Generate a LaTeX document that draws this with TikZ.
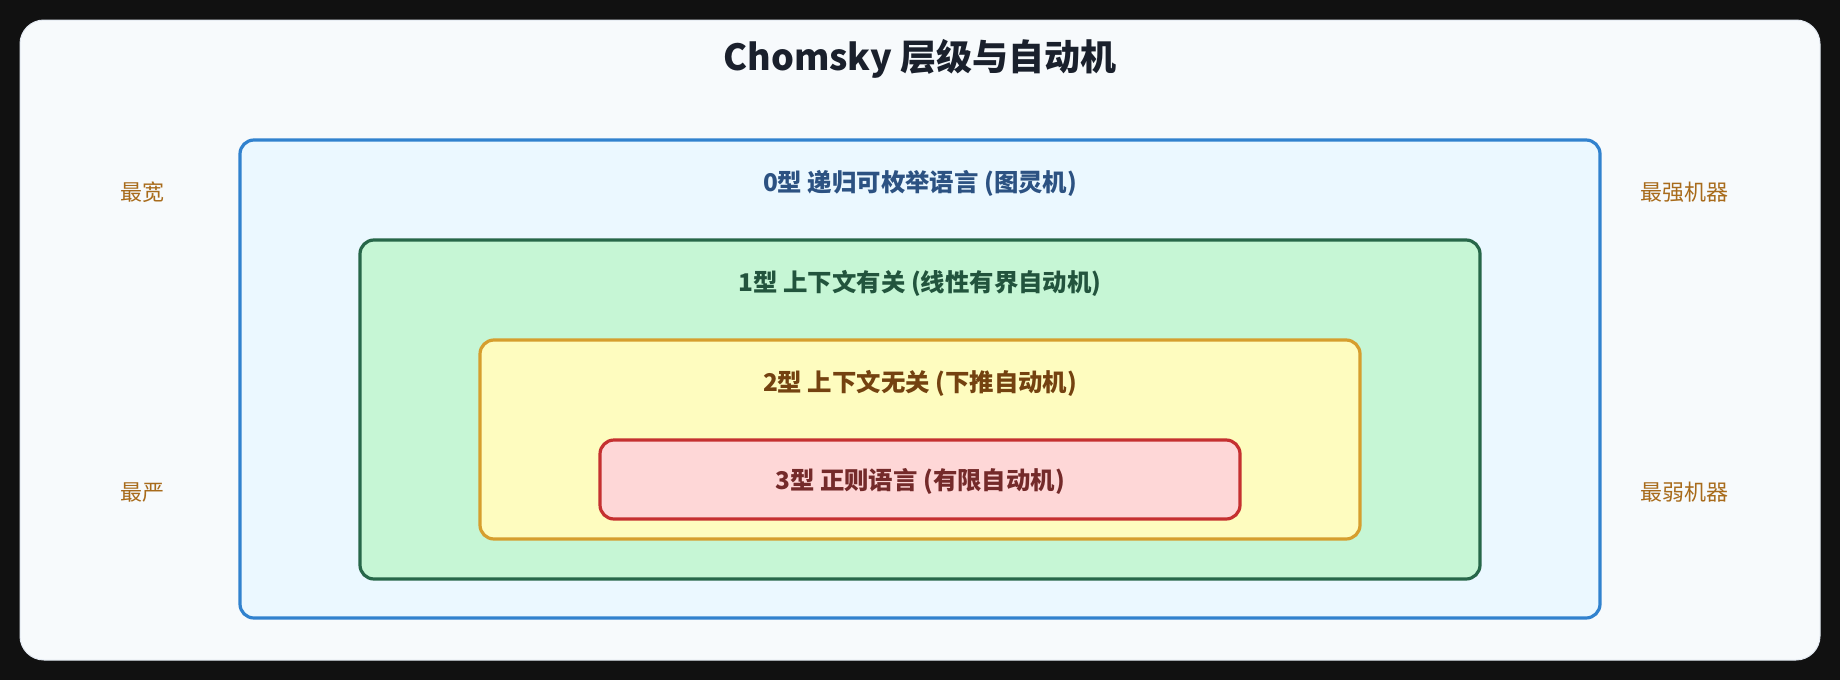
\documentclass[tikz,border=0pt]{standalone}
\usepackage{fontspec}
\setmainfont{Noto Sans CJK SC}
\usetikzlibrary{positioning}
\definecolor{pagebg}{HTML}{111111}
\definecolor{cardbg}{HTML}{F7FAFC}
\definecolor{cardline}{HTML}{E2E8F0}
\definecolor{titlec}{HTML}{1A202C}
\definecolor{sidec}{HTML}{A86B1B}
\definecolor{bline}{HTML}{3182CE}\definecolor{bfill}{HTML}{EBF8FF}\definecolor{btext}{HTML}{2C5282}
\definecolor{gline}{HTML}{276749}\definecolor{gfill}{HTML}{C6F6D5}\definecolor{gtext}{HTML}{22543D}
\definecolor{yline}{HTML}{D69E2E}\definecolor{yfill}{HTML}{FEFCBF}\definecolor{ytext}{HTML}{744210}
\definecolor{rline}{HTML}{C53030}\definecolor{rfill}{HTML}{FED7D7}\definecolor{rtext}{HTML}{742A2A}
\tikzset{
  layer/.style={draw=#1line, fill=#1fill, line width=1.6pt, rounded corners=7pt},
  layerlabel/.style={font=\fontsize{12.2}{14}\selectfont\bfseries, text=#1text, anchor=center, inner sep=0pt},
  sidelabel/.style={font=\fontsize{11}{13}\selectfont, text=sidec, anchor=center, inner sep=0pt},
}
\begin{document}
\begin{tikzpicture}[x=0.5pt,y=-0.5pt]
\useasboundingbox (0,0) rectangle (1840,680);
\fill[pagebg] (0,0) rectangle (1840,680);
\draw[cardline, fill=cardbg, line width=0.5pt, rounded corners=12pt] (20,20) rectangle (1820,660);
\node[font=\fontsize{18}{22}\selectfont\bfseries, text=titlec] (title) at (920,59) {Chomsky 层级与自动机};
\draw[layer=b] (240,140) rectangle (1600,618);
\draw[layer=g] (360,240) rectangle (1480,579);
\draw[layer=y] (480,340) rectangle (1360,539);
\draw[layer=r] (600,440) rectangle (1240,519);
\node[layerlabel=b] (l0) at (920,183) {0型 递归可枚举语言 (图灵机)};
\node[layerlabel=g] (l1) at (920,283) {1型 上下文有关 (线性有界自动机)};
\node[layerlabel=y] (l2) at (920,383) {2型 上下文无关 (下推自动机)};
\node[layerlabel=r] (l3) at (920,481) {3型 正则语言 (有限自动机)};
\node[sidelabel] (wide) at (142,192) {最宽};
\node[sidelabel] (strict) at (142,492) {最严};
\node[sidelabel] (strong) at (1684,192) {最强机器};
\node[sidelabel] (weak) at (1684,492) {最弱机器};
\end{tikzpicture}
\end{document}
